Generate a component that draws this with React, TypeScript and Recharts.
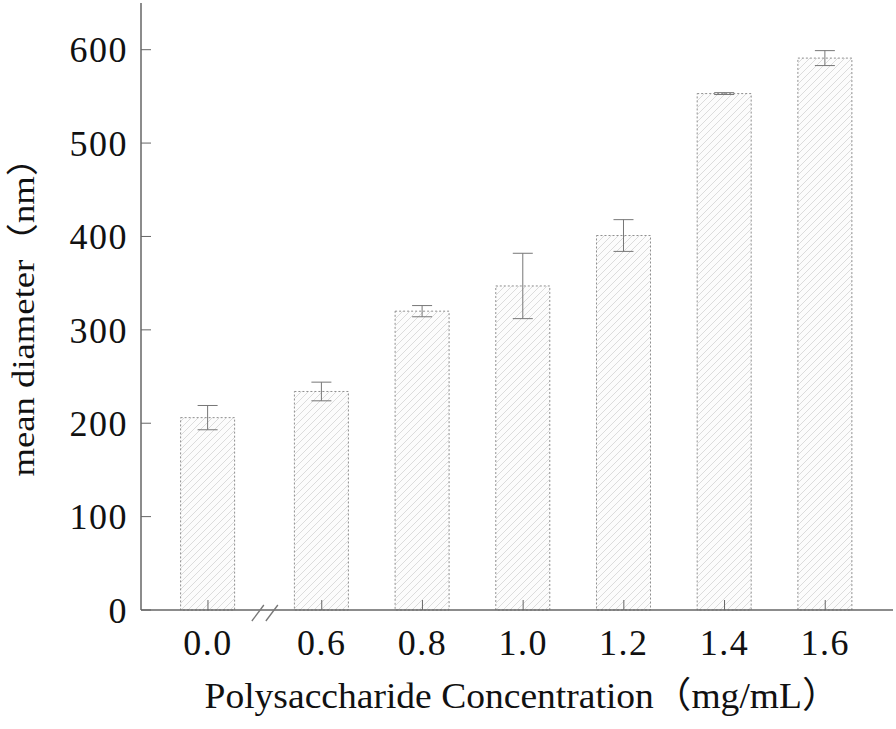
import React from 'react';
import { Bar, ComposedChart, ErrorBar, Label, ReferenceDot, XAxis, YAxis } from 'recharts';

// concentration groups (mg/mL), axis is broken between 0.0 and 0.6
const CATEGORIES = ['0.0', '0.6', '0.8', '1.0', '1.2', '1.4', '1.6'];
// mean particle diameter (nm)
const MEAN_DIAMETER = [206, 234, 320, 347, 401, 553, 591];
// standard deviation (nm)
const DIAMETER_SD = [13, 10, 6, 35, 17, 1, 8];
const Y_TICKS = [0, 100, 200, 300, 400, 500, 600];

// extra room left after the first group for the axis break
const BREAK_GAP = 0.13;

const data = CATEGORIES.map((label, i) => ({
  label,
  pos: i === 0 ? 0 : i + BREAK_GAP,
  diameter: MEAN_DIAMETER[i],
  sd: DIAMETER_SD[i],
}));

const X_TICKS = data.map((d) => d.pos);
const BREAK_AT = (X_TICKS[0] + X_TICKS[1]) / 2;

const FONT = '"Liberation Serif", "Times New Roman", "Noto Sans CJK SC", serif';
const AXIS_COLOR = '#666';
const TICK_STYLE = { fontFamily: FONT, fontSize: 36, fill: '#111', letterSpacing: 1.5 };

function labelFor(pos: number) {
  const row = data.find((d) => Math.abs(d.pos - pos) < 1e-6);
  return row ? row.label : '';
}

/** "//" mark where the x axis is broken */
function AxisBreak({ cx, cy }: { cx?: number; cy?: number }) {
  if (cx == null || cy == null) return null;
  return (
    <g stroke="#777" strokeWidth={1.3}>
      <line x1={cx - 13} y1={cy + 11} x2={cx - 1} y2={cy - 5} />
      <line x1={cx + 1} y1={cy + 11} x2={cx + 13} y2={cy - 5} />
    </g>
  );
}

function XTitle({ viewBox }: { viewBox?: { x: number; y: number; width: number; height: number } }) {
  if (!viewBox) return null;
  return (
    <text
      x={522}
      y={viewBox.y + 98}
      textAnchor="middle"
      fontFamily={FONT}
      fontSize={36}
      fill="#111"
      textLength={635}
      lengthAdjust="spacingAndGlyphs"
    >
      Polysaccharide Concentration（mg/mL）
    </text>
  );
}

function YTitle({ viewBox }: { viewBox?: { x: number; y: number; width: number; height: number } }) {
  if (!viewBox) return null;
  const x = viewBox.x - 7;
  const y = 308;
  return (
    <text
      x={x}
      y={y}
      transform={`rotate(-90 ${x} ${y})`}
      textAnchor="middle"
      fontFamily={FONT}
      fontSize={32}
      fill="#111"
      textLength={337}
      lengthAdjust="spacingAndGlyphs"
    >
      mean diameter（nm）
    </text>
  );
}

export default function App() {
  return (
    <div style={{ position: 'absolute', left: 0, top: 0, width: 896, height: 729, background: '#fff' }}>
      <svg width={0} height={0} style={{ position: 'absolute' }}>
        <defs>
          <pattern id="hatch" patternUnits="userSpaceOnUse" width={7} height={7}>
            <rect width={7} height={7} fill="#fcfcfc" />
            <path d="M0,7 L7,0 M-1,1 L1,-1 M6,8 L8,6" stroke="#dcdcdc" strokeWidth={1} />
          </pattern>
        </defs>
      </svg>
      <ComposedChart width={896} height={729} data={data} margin={{ top: 3, right: 3, bottom: 59, left: 41 }}>
        <XAxis
          dataKey="pos"
          type="number"
          domain={[-0.665, 6.803]}
          ticks={X_TICKS}
          interval={0}
          tickFormatter={labelFor}
          height={60}
          tickSize={-10}
          tickMargin={29}
          axisLine={{ stroke: AXIS_COLOR, strokeWidth: 1.5 }}
          tickLine={{ stroke: AXIS_COLOR }}
          tick={TICK_STYLE}
        >
          <Label content={<XTitle />} />
        </XAxis>
        <YAxis
          type="number"
          domain={[0, 650]}
          ticks={Y_TICKS}
          width={100}
          tickSize={-10}
          tickMargin={23}
          axisLine={{ stroke: AXIS_COLOR, strokeWidth: 1.5 }}
          tickLine={{ stroke: AXIS_COLOR }}
          tick={TICK_STYLE}
        >
          <Label content={<YTitle />} />
        </YAxis>
        <Bar
          dataKey="diameter"
          barSize={54}
          fill="url(#hatch)"
          stroke="#8f8f8f"
          strokeWidth={1}
          strokeDasharray="2 2"
          isAnimationActive={false}
        >
          <ErrorBar dataKey="sd" direction="y" width={10} stroke="#777" strokeWidth={1} />
        </Bar>
        <ReferenceDot x={BREAK_AT} y={0} ifOverflow="visible" shape={<AxisBreak />} />
      </ComposedChart>
    </div>
  );
}
